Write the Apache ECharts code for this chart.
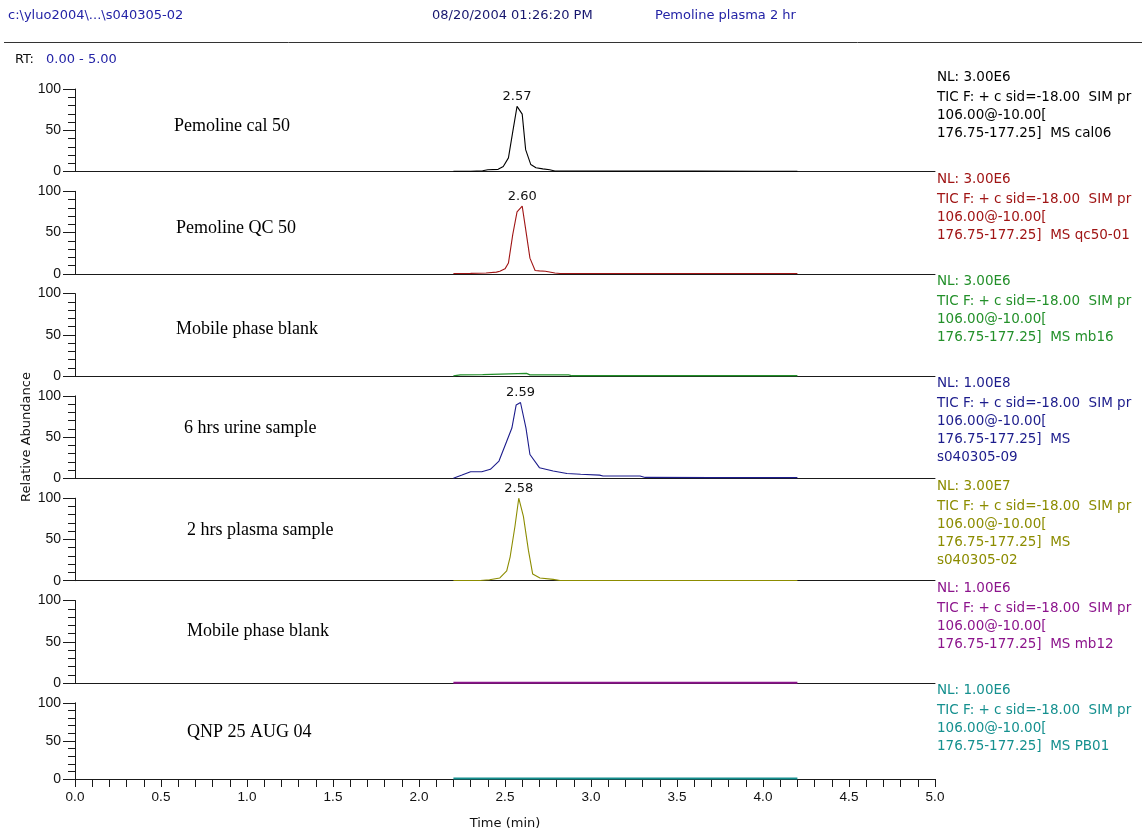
<!DOCTYPE html>
<html>
<head>
<meta charset="utf-8">
<script src="https://cdn.jsdelivr.net/npm/echarts@6/dist/echarts.min.js"></script>
<style>
  html, body { margin: 0; padding: 0; background: #ffffff; }
  #chart { width: 1142px; height: 831px; }
</style>
</head>
<body>
<div id="chart"></div>
<script>
// ---- chromatogram data (retention time in min, relative abundance in %) ----
const calTimes  = [2.20, 2.30, 2.37, 2.40, 2.46, 2.49, 2.52, 2.545, 2.57, 2.60, 2.62, 2.65, 2.68, 2.72, 2.76, 2.79, 3.20, 3.60, 4.00, 4.20];
const calValues = [0.3, 0.3, 1.0, 2.2, 2.6, 6.0, 16.5, 48, 79, 69.5, 26.5, 8.4, 4.5, 3.2, 2.2, 0.6, 0.4, 0.4, 0.3, 0.3];

const qcTimes  = [2.20, 2.30, 2.39, 2.45, 2.47, 2.50, 2.52, 2.545, 2.57, 2.60, 2.622, 2.645, 2.675, 2.70, 2.735, 2.79, 2.82, 3.30, 3.80, 4.20];
const qcValues = [0.3, 0.5, 1.0, 2.0, 3.0, 6.0, 13, 47.5, 75, 82, 51.5, 19, 4, 3.5, 3, 1, 0.3, 0.3, 0.3, 0.3];

const blank1Times  = [2.20, 2.24, 2.37, 2.38, 2.625, 2.645, 2.87, 2.89, 3.50, 4.20];
const blank1Values = [0.2, 1.5, 1.8, 3.2, 3.2, 1.6, 1.4, 0.4, 0.4, 0.4];

const urineTimes  = [2.20, 2.21, 2.25, 2.30, 2.365, 2.415, 2.465, 2.51, 2.54, 2.565, 2.59, 2.622, 2.645, 2.70, 2.78, 2.86, 2.94, 3.05, 3.07, 3.285, 3.315, 3.70, 4.20];
const urineValues = [0.3, 0.5, 4, 8, 8, 11, 21, 45, 61, 89, 92, 61, 29, 13, 9, 6, 5, 4, 3, 3, 1.2, 1, 1];

const plasmaTimes  = [2.20, 2.355, 2.41, 2.47, 2.51, 2.53, 2.558, 2.58, 2.607, 2.636, 2.661, 2.703, 2.78, 2.82, 3.40, 4.20];
const plasmaValues = [0.2, 0.3, 1.2, 3.3, 12, 29, 66, 100, 78, 37, 8, 3.3, 1.6, 0.3, 0.3, 0.3];

const blank2Times  = [2.20, 2.60, 3.00, 3.40, 3.80, 4.20];
const blank2Values = [0.3, 0.3, 0.3, 0.3, 0.3, 0.3];

const qnpTimes  = [2.20, 2.60, 3.00, 3.40, 3.80, 4.20];
const qnpValues = [0.5, 0.5, 0.5, 0.5, 0.5, 0.5];

// ---- trace descriptions ----
const panelNames = ['Pemoline cal 50', 'Pemoline QC 50', 'Mobile phase blank', '6 hrs urine sample',
                    '2 hrs plasma sample', 'Mobile phase blank', 'QNP 25 AUG 04'];
const normLevels = ['3.00E6', '3.00E6', '3.00E6', '1.00E8', '3.00E7', '1.00E6', '1.00E6'];
const scanFilter = ['TIC F: + c sid=-18.00  SIM pr', '106.00@-10.00['];
const scanRanges = ['176.75-177.25]  MS cal06', '176.75-177.25]  MS qc50-01', '176.75-177.25]  MS mb16',
                    '176.75-177.25]  MS\ns040305-09', '176.75-177.25]  MS\ns040305-02',
                    '176.75-177.25]  MS mb12', '176.75-177.25]  MS PB01'];
const showPeakRT = [true, true, false, true, true, false, false];
const traces = [
  [calTimes, calValues], [qcTimes, qcValues], [blank1Times, blank1Values], [urineTimes, urineValues],
  [plasmaTimes, plasmaValues], [blank2Times, blank2Values], [qnpTimes, qnpValues]
];
const xTicks = [0, 0.5, 1, 1.5, 2, 2.5, 3, 3.5, 4, 4.5, 5];
const yTicks = [0, 50, 100];

// ---- styling / layout ----
const traceColors = ['#000000', '#a01515', '#23902a', '#1c1c8c', '#8c8c00', '#8c148c', '#15908f'];
const traceWidths = [1.1, 1.1, 1.3, 1.1, 1.1, 2, 2];
const GRID_LEFT = 75, GRID_W = 860, TOP0 = 89, STEP = 102.3, PANEL_H = 82.5;
const annotationPos = [[174, 126], [176, 228], [176, 329], [184, 428], [187, 530], [187, 631], [187, 732]];
const SANS = '"Liberation Sans", Arial, sans-serif';
const WIDE = '"DejaVu Sans", Verdana, sans-serif';
const SERIF = '"Liberation Serif", "Times New Roman", serif';
const HEADER_BLUE = '#2323a6';

const grids = [], xAxes = [], yAxes = [], series = [], graphics = [];

traces.forEach(([times, values], i) => {
  const top = TOP0 + i * STEP;
  const last = i === traces.length - 1;
  grids.push({ left: GRID_LEFT, width: GRID_W, top: top, height: PANEL_H });

  xAxes.push({
    type: 'value', gridIndex: i, min: xTicks[0], max: xTicks[xTicks.length - 1], interval: xTicks[1] - xTicks[0],
    axisLine: { show: true, onZero: false, lineStyle: { color: '#1a1a1a', width: 1 } },
    axisTick: { show: last, length: 8, lineStyle: { color: '#1a1a1a' } },
    minorTick: { show: last, splitNumber: 5, length: 8, lineStyle: { color: '#1a1a1a' } },
    splitLine: { show: false },
    axisLabel: { show: last, margin: 11, fontFamily: SANS, fontSize: 13.5, color: '#111',
                 formatter: v => v.toFixed(1) },
    name: last ? 'Time (min)' : '', nameLocation: 'middle', nameGap: 38,
    nameTextStyle: { fontFamily: WIDE, fontSize: 13, color: '#111' }
  });

  yAxes.push({
    type: 'value', gridIndex: i, min: yTicks[0], max: yTicks[yTicks.length - 1], interval: yTicks[1] - yTicks[0],
    axisLine: { show: true, lineStyle: { color: '#1a1a1a', width: 1 } },
    axisTick: { show: true, length: 12, lineStyle: { color: '#1a1a1a' } },
    minorTick: { show: true, splitNumber: 5, length: 7, lineStyle: { color: '#1a1a1a' } },
    splitLine: { show: false },
    axisLabel: { margin: 14, fontFamily: SANS, fontSize: 14, color: '#111' }
  });

  // apex of the trace, labelled with its retention time
  let peak = 0;
  values.forEach((v, k) => { if (v > values[peak]) peak = k; });

  series.push({
    type: 'line', xAxisIndex: i, yAxisIndex: i,
    data: times.map((t, k) => [t, values[k]]),
    symbol: 'none', showSymbol: false, silent: true, animation: false,
    lineStyle: { color: traceColors[i], width: traceWidths[i] },
    markPoint: showPeakRT[i] ? {
      symbol: 'circle', symbolSize: 0, silent: true, animation: false,
      data: [{ coord: [times[peak], values[peak]] }],
      label: { show: true, position: 'top', distance: 3, fontFamily: WIDE, fontSize: 13, color: '#111',
               formatter: p => p.data.coord[0].toFixed(2) }
    } : undefined
  });

  // sample annotation inside the panel
  graphics.push({
    type: 'text', silent: true,
    style: { text: panelNames[i], x: annotationPos[i][0], y: annotationPos[i][1],
             textAlign: 'left', textVerticalAlign: 'middle', font: '18px ' + SERIF, fill: '#000' }
  });
  // normalisation level and scan filter on the right
  const nlY = top - 12;
  graphics.push({
    type: 'text', silent: true,
    style: { text: 'NL: ' + normLevels[i], x: 937, y: nlY, textAlign: 'left', textVerticalAlign: 'middle',
             font: '13.5px ' + WIDE, fill: traceColors[i] }
  });
  graphics.push({
    type: 'text', silent: true,
    style: { text: scanFilter.concat([scanRanges[i]]).join('\n'), x: 937, y: nlY + 11,
             textAlign: 'left', textVerticalAlign: 'top', lineHeight: 18,
             font: '13.5px ' + WIDE, fill: traceColors[i] }
  });
});

// page header
graphics.push(
  { type: 'text', silent: true, style: { text: 'c:\\yluo2004\\...\\s040305-02', x: 8, y: 16, textVerticalAlign: 'middle', font: '13px ' + WIDE, fill: HEADER_BLUE } },
  { type: 'text', silent: true, style: { text: '08/20/2004 01:26:20 PM', x: 432, y: 16, textVerticalAlign: 'middle', font: '13px ' + WIDE, fill: '#16166e' } },
  { type: 'text', silent: true, style: { text: 'Pemoline plasma 2 hr', x: 655, y: 16, textVerticalAlign: 'middle', font: '13px ' + WIDE, fill: HEADER_BLUE } },
  { type: 'line', silent: true, shape: { x1: 4, y1: 42.5, x2: 1142, y2: 42.5 }, style: { stroke: '#333', lineWidth: 1 } },
  { type: 'text', silent: true, style: { text: 'RT:', x: 15, y: 60, textVerticalAlign: 'middle', font: '13px ' + WIDE, fill: '#111' } },
  { type: 'text', silent: true, style: { text: '0.00 - 5.00', x: 46, y: 60, textVerticalAlign: 'middle', font: '13px ' + WIDE, fill: HEADER_BLUE } },
  { type: 'text', silent: true, rotation: Math.PI / 2, x: 27, y: 437,
    style: { text: 'Relative Abundance', x: 0, y: 0, textAlign: 'center', textVerticalAlign: 'middle', font: '13px ' + WIDE, fill: '#111' } }
);

const chart = echarts.init(document.getElementById('chart'), null, { renderer: 'canvas' });
chart.setOption({
  animation: false,
  backgroundColor: '#ffffff',
  grid: grids,
  xAxis: xAxes,
  yAxis: yAxes,
  series: series,
  graphic: { elements: graphics }
});
</script>
</body>
</html>
